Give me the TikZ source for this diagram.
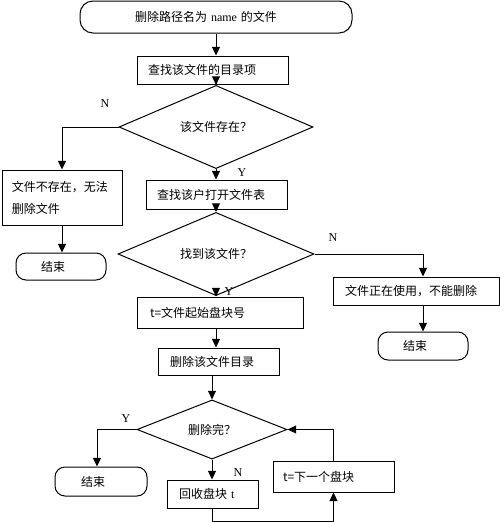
\documentclass[tikz,border=0pt]{standalone}
\usepackage{fontspec}
\setmainfont{Liberation Serif}
\newfontfamily\cjk{Noto Sans CJK SC}
\usetikzlibrary{shapes.geometric,arrows.meta}
\def\p{0.75pt}
\begin{document}
\begin{tikzpicture}[x=0.75pt,y=-0.75pt,
  line width=0.75pt,
  every node/.style={font=\cjk\fontsize{9}{16.5}\selectfont},
  box/.style 2 args={draw,rectangle,align=left,inner ysep=0pt,
    text width={(#1-2*#2)*\p},inner xsep={#2*\p}},
  term/.style={rounded corners=10*\p},
  dec/.style={draw,diamond,inner sep=0pt},
  lab/.style={font=\rmfamily\fontsize{9}{11}\selectfont},
  arr/.style={-{Triangle[length=6.5pt,width=6pt]}}]
\useasboundingbox (0,0) rectangle (500,522);

\node[box={272}{55},term,rounded corners=13*\p,minimum height=32*\p] (start) at (216,17) {删除路径名为 {\rmfamily name} 的文件};
\node[box={151}{11},minimum height=28*\p] (find1) at (212.5,70) {查找该文件的目录项};
\node[dec,minimum width=194*\p,minimum height=52*\p] (d1) at (216,127) {该文件存在？};
\node[box={120}{10},minimum height=55*\p] (notexist) at (62,197.5) {文件不存在，无法\\删除文件};
\node[box={90}{25},term,minimum height=27*\p] (end1) at (61,266.5) {结束};
\node[box={141}{11},minimum height=29*\p] (find2) at (216.5,194.5) {查找该户打开文件表};
\node[dec,minimum width=196*\p,minimum height=46*\p] (d2) at (216,254) {找到该文件？};
\node[box={166}{12},minimum height=28*\p] (inuse) at (416,291) {文件正在使用，不能删除};
\node[box={90}{25},term,minimum height=28*\p] (end2) at (423,346) {结束};
\node[box={166}{13},minimum height=31*\p] (startblk) at (220,312.5) {t=文件起始盘块号};
\node[box={121}{12},minimum height=27*\p] (deldir) at (218.5,361.5) {删除该文件目录};
\node[dec,minimum width=150*\p,minimum height=55*\p] (d3) at (212,429.5) {删除完？};
\node[box={92}{26},term,minimum height=29*\p] (end3) at (101,481.5) {结束};
\node[box={91}{12},minimum height=28*\p] (recycle) at (212.5,494) {回收盘块 {\rmfamily t}};
\node[box={121}{10},minimum height=31*\p] (next) at (333.5,476.5) {t=下一个盘块};

\node[lab] (n1) at (105,104) {N};
\node[lab] (y1) at (242,173) {Y};
\node[lab] (n2) at (333,238) {N};
\node[lab] (y2) at (229,292) {Y};
\node[lab] (y3) at (126,419) {Y};
\node[lab] (n3) at (238,473) {N};

\draw[arr] (start.south) -- (start.south |- find1.north);
\draw[arr] (d1.north |- find1.south) -- (d1.north);
\draw[arr] (d1.west) -| (notexist.north);
\draw[arr] (d1.south) -- (d1.south |- find2.north);
\draw[arr] (notexist.south) -- (notexist.south |- end1.north);
\draw[arr] (d2.north |- find2.south) -- (d2.north);
\draw[arr] (d2.east) -| (end2.north |- inuse.north);
\draw[arr] (end2.north |- inuse.south) -- (end2.north);
\draw[arr] (d2.south) -- (d2.south |- startblk.north);
\draw[arr] (d2.south |- startblk.south) -- (d2.south |- deldir.north);
\draw[arr] (d3.north |- deldir.south) -- (d3.north);
\draw[arr] (d3.west) -| ([xshift=-4*\p]end3.north);
\draw[arr] (d3.south) -- (d3.south |- recycle.north);
\draw[arr] (recycle.south) -- ++(0,13) -| (next.south);
\draw[arr] (next.north) |- (d3.east);
\end{tikzpicture}
\end{document}
